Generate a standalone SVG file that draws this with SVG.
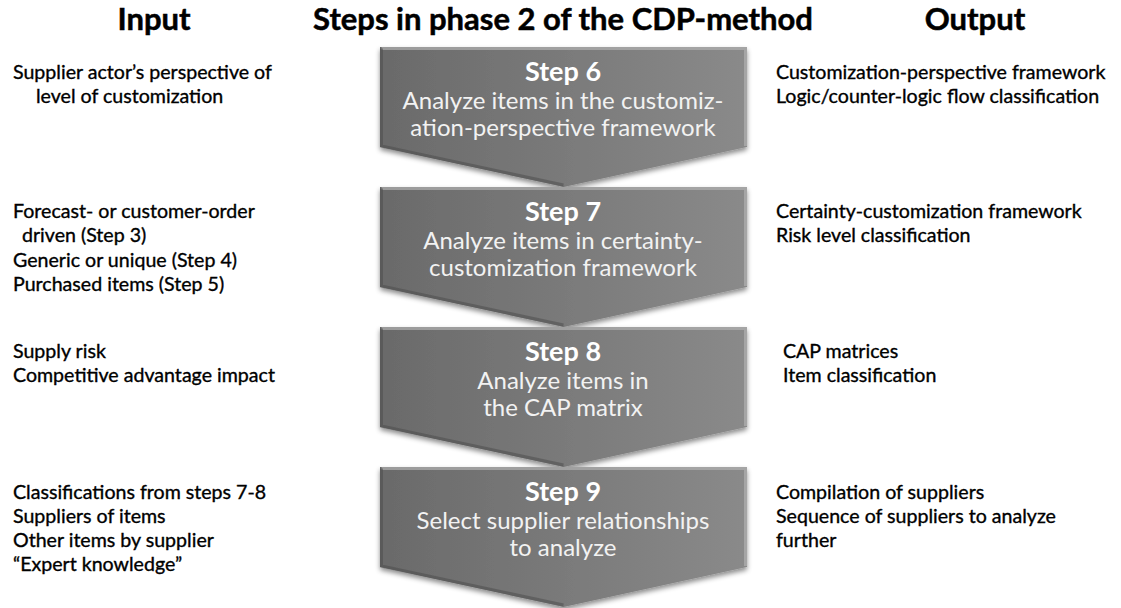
<svg xmlns="http://www.w3.org/2000/svg" width="1121" height="608" viewBox="0 0 1121 608">
<defs>
  <linearGradient id="fillg" x1="0" y1="0" x2="1" y2="0">
    <stop offset="0" stop-color="#6a6a6a"/>
    <stop offset="1" stop-color="#8a8a8a"/>
  </linearGradient>
  <filter id="shadow" x="-10%" y="-10%" width="120%" height="130%">
    <feDropShadow dx="0" dy="3" stdDeviation="2.5" flood-color="#000" flood-opacity="0.45"/>
  </filter>
  <polygon id="chev" points="380,0 747,0 747,100 563.5,140 380,100"/>
</defs>
<style>
  .hdr{font-family:"Lato","Liberation Sans",sans-serif;font-weight:bold;font-size:31px;fill:#000;stroke:#000;stroke-width:0.5;text-anchor:middle}
  .side{font-family:"Lato","Liberation Sans",sans-serif;font-size:19.6px;fill:#000;stroke:#000;stroke-width:0.35}
  .stp{font-family:"Lato","Liberation Sans",sans-serif;font-weight:bold;font-size:27px;fill:#fff;text-anchor:middle}
  .desc{font-family:"Lato","Liberation Sans",sans-serif;font-size:24px;fill:#f2f2f2;text-anchor:middle}
  .body{fill:url(#fillg);filter:url(#shadow)}
  .hi{fill:none;stroke:#b0b0b0;stroke-width:3;stroke-opacity:0.7}
  .lo{fill:none;stroke:#4a4a4a;stroke-width:3;stroke-opacity:0.5}
</style>
<rect width="1121" height="608" fill="#fff"/>

<g id="headers">
  <text class="hdr" x="154" y="30">Input</text>
  <text class="hdr" x="563" y="30">Steps in phase 2 of the CDP-method</text>
  <text class="hdr" x="975" y="30">Output</text>
</g>

<g id="connectors"></g>

<g id="step6" transform="translate(0,47)">
  <use href="#chev" class="body"/>
  <polyline class="hi" points="381.5,1.5 745.5,1.5 745.5,99"/>
  <polyline class="lo" points="381.5,1.5 381.5,99 563.5,138"/>
  <text class="stp" x="563" y="34">Step 6</text>
  <text class="desc" x="563" y="62">Analyze items in the customiz-</text>
  <text class="desc" x="563" y="89">ation-perspective framework</text>
</g>
<g id="step7" transform="translate(0,187)">
  <use href="#chev" class="body"/>
  <polyline class="hi" points="381.5,1.5 745.5,1.5 745.5,99"/>
  <polyline class="lo" points="381.5,1.5 381.5,99 563.5,138"/>
  <text class="stp" x="563" y="34">Step 7</text>
  <text class="desc" x="563" y="62">Analyze items in certainty-</text>
  <text class="desc" x="563" y="89">customization framework</text>
</g>
<g id="step8" transform="translate(0,327)">
  <use href="#chev" class="body"/>
  <polyline class="hi" points="381.5,1.5 745.5,1.5 745.5,99"/>
  <polyline class="lo" points="381.5,1.5 381.5,99 563.5,138"/>
  <text class="stp" x="563" y="34">Step 8</text>
  <text class="desc" x="563" y="62">Analyze items in</text>
  <text class="desc" x="563" y="89">the CAP matrix</text>
</g>
<g id="step9" transform="translate(0,467)">
  <use href="#chev" class="body"/>
  <polyline class="hi" points="381.5,1.5 745.5,1.5 745.5,99"/>
  <polyline class="lo" points="381.5,1.5 381.5,99 563.5,138"/>
  <text class="stp" x="563" y="34">Step 9</text>
  <text class="desc" x="563" y="62">Select supplier relationships</text>
  <text class="desc" x="563" y="89">to analyze</text>
</g>

<g id="input6">
  <text class="side" x="13" y="79">Supplier actor’s perspective of</text>
  <text class="side" x="36" y="103">level of customization</text>
</g>
<g id="input7">
  <text class="side" x="13" y="218">Forecast- or customer-order</text>
  <text class="side" x="22" y="242">driven (Step 3)</text>
  <text class="side" x="13" y="267">Generic or unique (Step 4)</text>
  <text class="side" x="13" y="291">Purchased items (Step 5)</text>
</g>
<g id="input8">
  <text class="side" x="13" y="358">Supply risk</text>
  <text class="side" x="13" y="382">Competitive advantage impact</text>
</g>
<g id="input9">
  <text class="side" x="13" y="499">Classifications from steps 7-8</text>
  <text class="side" x="13" y="523">Suppliers of items</text>
  <text class="side" x="13" y="547">Other items by supplier</text>
  <text class="side" x="13" y="571">“Expert knowledge”</text>
</g>

<g id="output6">
  <text class="side" x="776" y="79">Customization-perspective framework</text>
  <text class="side" x="776" y="103">Logic/counter-logic flow classification</text>
</g>
<g id="output7">
  <text class="side" x="776" y="218">Certainty-customization framework</text>
  <text class="side" x="776" y="242">Risk level classification</text>
</g>
<g id="output8">
  <text class="side" x="783" y="358">CAP matrices</text>
  <text class="side" x="783" y="382">Item classification</text>
</g>
<g id="output9">
  <text class="side" x="776" y="499">Compilation of suppliers</text>
  <text class="side" x="776" y="523">Sequence of suppliers to analyze</text>
  <text class="side" x="776" y="547">further</text>
</g>
</svg>
